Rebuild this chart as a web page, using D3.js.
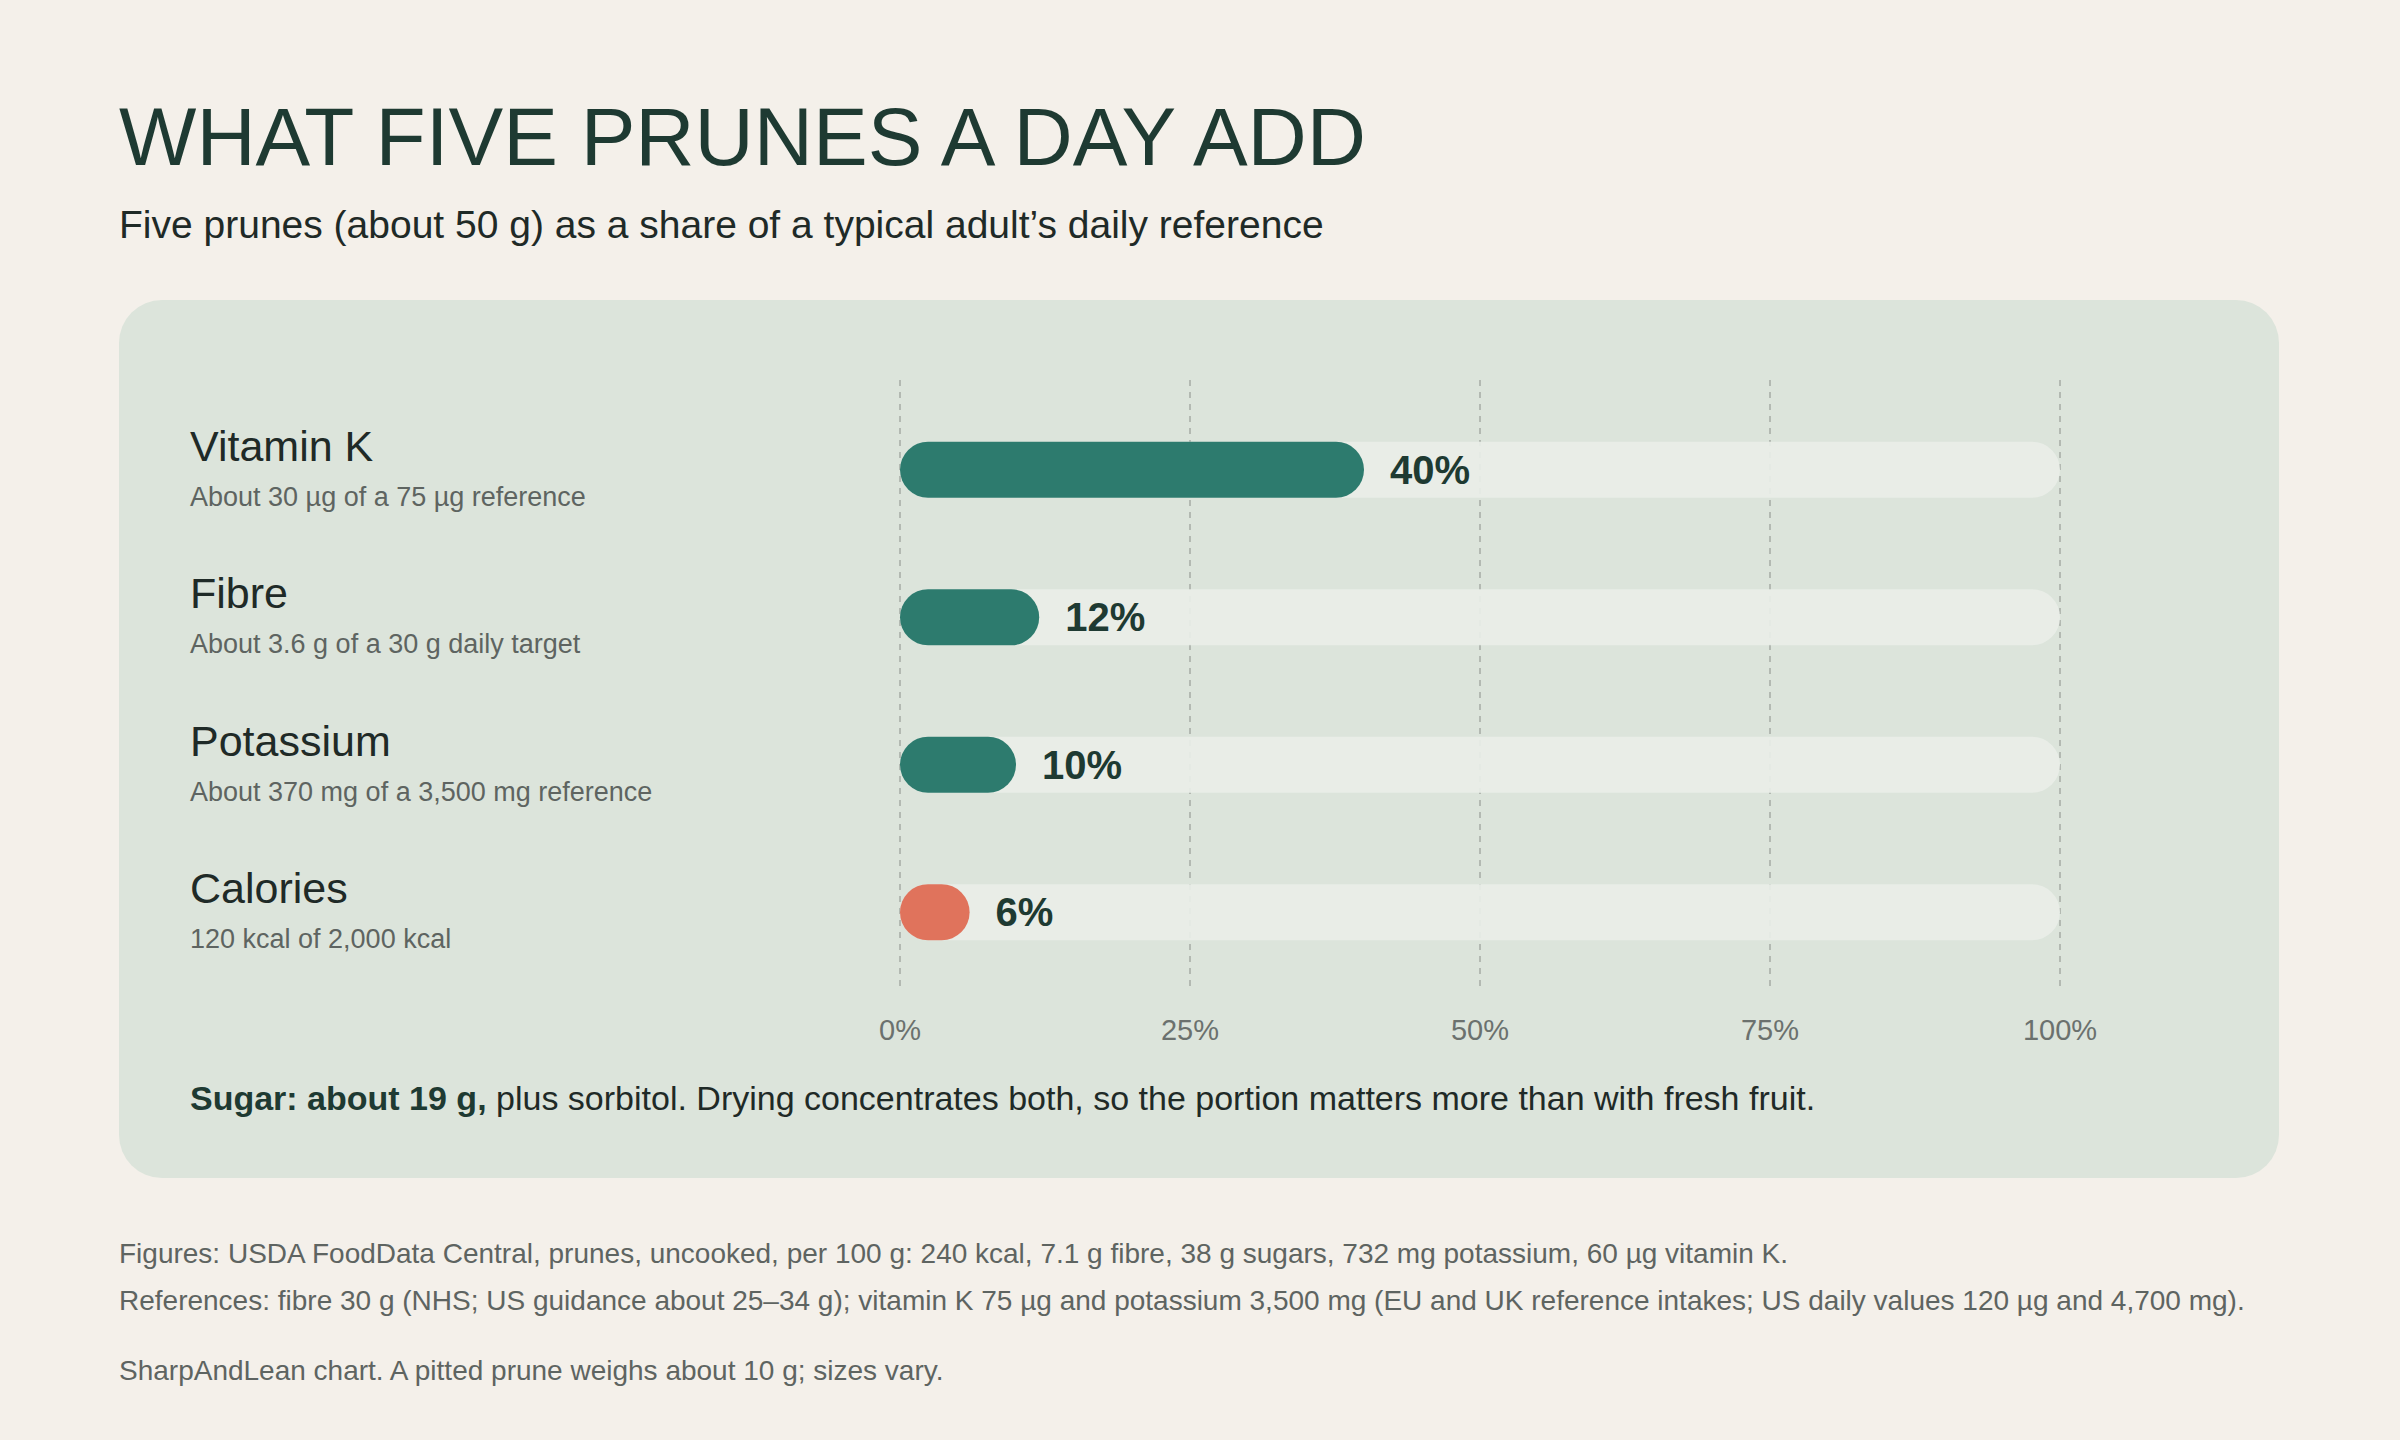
<!DOCTYPE html><html><head><meta charset="utf-8">
<script src="https://cdn.jsdelivr.net/npm/d3@7"></script>
<style>body{margin:0;background:#f4f0ea}</style></head><body>
<svg id="c" width="2400" height="1440"></svg>
<script>
const names=["Vitamin K","Fibre","Potassium","Calories"];
const subs=["About 30 µg of a 75 µg reference","About 3.6 g of a 30 g daily target","About 370 mg of a 3,500 mg reference","120 kcal of 2,000 kcal"];
const values=[40,12,10,6];
const colors=["#2d7b6e","#2d7b6e","#2d7b6e","#e0735c"];
const ticks=[0,25,50,75,100];
const F="Liberation Sans, Arial, sans-serif";
const svg=d3.select("#c");
svg.append("rect").attr("width",2400).attr("height",1440).attr("fill","#f4f0ea");
svg.append("text").attr("x",119).attr("y",165).attr("font-family",F).attr("font-size",82).attr("fill","#1e3a32").text("WHAT FIVE PRUNES A DAY ADD");
svg.append("text").attr("x",119).attr("y",238).attr("font-family",F).attr("font-size",39).attr("fill","#1f2a27").text("Five prunes (about 50 g) as a share of a typical adult’s daily reference");
svg.append("rect").attr("x",119).attr("y",300).attr("width",2160).attr("height",878).attr("rx",43).attr("fill","#dce4db");
const x=d3.scaleLinear().domain([0,100]).range([900,2060]);
const y=d3.scaleBand().domain(names).range([396,986]).paddingInner(0.62).paddingOuter(0.31);
const g=svg.append("g");
g.selectAll(".grid").data(ticks).join("line").attr("x1",d=>x(d)).attr("x2",d=>x(d)).attr("y1",380).attr("y2",987).attr("stroke","#b3b9b2").attr("stroke-width",2).attr("stroke-dasharray","6,6");
const bh=y.bandwidth();
g.selectAll(".track").data(names).join("rect").attr("x",x(0)).attr("y",d=>y(d)).attr("width",x(100)-x(0)).attr("height",bh).attr("rx",bh/2).attr("fill","#e9eee8").attr("opacity",0.92);
g.selectAll(".bar").data(values).join("rect").attr("x",x(0)).attr("y",(d,i)=>y(names[i])).attr("width",d=>x(d)-x(0)).attr("height",bh).attr("rx",bh/2).attr("fill",(d,i)=>colors[i]);
g.selectAll(".val").data(values).join("text").attr("x",d=>x(d)+26).attr("y",(d,i)=>y(names[i])+bh/2+14).attr("font-family",F).attr("font-weight","bold").attr("font-size",40).attr("fill","#1e3a32").text(d=>d+"%");
g.selectAll(".nm").data(names).join("text").attr("x",190).attr("y",d=>y(d)+bh/2-9).attr("font-family",F).attr("font-size",43).attr("fill","#1f2a27").text(d=>d);
g.selectAll(".sb").data(subs).join("text").attr("x",190).attr("y",(d,i)=>y(names[i])+bh/2+36).attr("font-family",F).attr("font-size",27).attr("fill","#5e6461").text(d=>d);
g.selectAll(".tk").data(ticks).join("text").attr("x",d=>x(d)).attr("y",1040).attr("text-anchor","middle").attr("font-family",F).attr("font-size",29).attr("fill","#6b716e").text(d=>d+"%");
const n=svg.append("text").attr("x",190).attr("y",1110).attr("font-family",F).attr("font-size",34).attr("fill","#1f2a27");
n.append("tspan").attr("font-weight","bold").attr("fill","#1e3a32").text("Sugar: about 19 g,");
n.append("tspan").text(" plus sorbitol. Drying concentrates both, so the portion matters more than with fresh fruit.");
const foot=["Figures: USDA FoodData Central, prunes, uncooked, per 100 g: 240 kcal, 7.1 g fibre, 38 g sugars, 732 mg potassium, 60 µg vitamin K.","References: fibre 30 g (NHS; US guidance about 25–34 g); vitamin K 75 µg and potassium 3,500 mg (EU and UK reference intakes; US daily values 120 µg and 4,700 mg).","SharpAndLean chart. A pitted prune weighs about 10 g; sizes vary."];
const fy=[1263,1310,1380];
svg.selectAll(".ft").data(foot).join("text").attr("x",119).attr("y",(d,i)=>fy[i]).attr("font-family",F).attr("font-size",28).attr("fill","#5e6461").text(d=>d);
</script></body></html>
